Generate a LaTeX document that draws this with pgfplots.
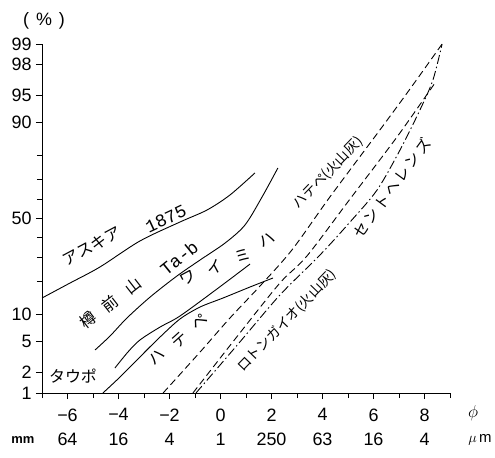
\documentclass[border=0pt]{standalone}
\usepackage{fontspec}
\setmainfont{Noto Sans CJK JP}
\newfontfamily\numfont{Liberation Sans}
\newfontfamily\twfont{Liberation Mono}
\usepackage{pgfplots}
\pgfplotsset{compat=1.18}

% probit (z) values of the cumulative percentages
\pgfplotstableread{
x y
-7.00 -1.060
-5.90 -0.860
-4.73 -0.647
-3.16 -0.300
-1.59 -0.047
-0.53 0.113
0.37 0.313
1.35 0.607
}\askia
\pgfplotstableread{
x y
-4.92 -1.753
-4.33 -1.566
-3.67 -1.327
-2.76 -1.047
-1.71 -0.767
-0.80 -0.553
0.18 -0.327
0.96 -0.087
1.63 0.287
2.25 0.673
}\tarumae
\pgfplotstableread{
x y
-4.14 -1.993
-3.63 -1.780
-3.16 -1.620
-2.37 -1.447
-1.59 -1.300
-0.14 -0.940
1.16 -0.607
}\waimiha
\pgfplotstableread{
x y
-4.61 -2.326
-3.94 -2.113
-3.16 -1.846
-2.37 -1.580
-1.59 -1.340
-0.80 -1.180
0.10 -1.060
1.16 -0.913
2.06 -0.793
}\taupo
\pgfplotstableread{
x y
-2.25 -2.326
-0.80 -1.780
0.37 -1.327
1.55 -0.900
2.80 -0.420
4.29 0.287
6.25 1.180
7.43 1.726
8.69 2.326
}\hatepe
\pgfplotstableread{
x y
-1.08 -2.326
0.76 -1.526
2.33 -0.860
3.39 -0.500
5.08 0.260
6.92 1.086
8.41 1.806
}\rotongaio
\pgfplotstableread{
x y
-0.96 -2.326
0.76 -1.646
2.33 -1.020
3.90 -0.487
5.08 -0.047
6.14 0.380
7.04 0.913
7.82 1.446
8.33 1.846
8.69 2.326
}\sthelens

\begin{document}
\begin{tikzpicture}
\useasboundingbox (-42bp,-65bp) rectangle (453bp,393bp);
\begin{axis}[
  name=ax, at={(0,0)}, anchor=south west,
  scale only axis, width=408bp, height=349bp,
  xmin=-7, xmax=9, ymin=-2.3263, ymax=2.3263,
  axis x line=bottom, axis y line=left,
  axis line style={-, line width=1pt},
  tick align=outside,
  major tick length=6bp, minor tick length=5bp,
  every tick/.style={black, line width=0.9pt},
  xtick={-6,-4,-2,0,2,4,6,8},
  xticklabels={{−6\\64},{−4\\16},{−2\\4},{0\\1},{2\\250},{4\\63},{6\\16},{8\\4}},
  minor xtick={-7,-5,-3,-1,1,3,5,7,9},
  ytick={-2.3263,-2.0537,-1.6449,-1.2816,0,1.2816,1.6449,2.0537,2.3263},
  yticklabels={1,2,5,10,50,90,95,98,99},
  minor ytick={-0.8416,-0.5244,-0.2533,0.2533,0.5244,0.8416},
  ticklabel style={font=\numfont\fontsize{18}{25}\selectfont},
  xticklabel style={align=center, yshift=-6bp},
  yticklabel style={xshift=-1bp},
  clip=false,
]
\addplot[black, line width=0.9pt, smooth] table {\askia};
\addplot[black, line width=0.9pt, smooth] table {\tarumae};
\addplot[black, line width=0.9pt, smooth] table {\waimiha};
\addplot[black, line width=0.9pt, smooth] table {\taupo};
\addplot[black, line width=0.9pt, smooth, dash pattern=on 7bp off 4bp] table {\hatepe};
\addplot[black, line width=0.9pt, smooth, dash pattern=on 7bp off 4bp] table {\rotongaio};
\addplot[black, line width=0.9pt, smooth, dash pattern=on 9bp off 3bp on 1.5bp off 3bp] table {\sthelens};
\end{axis}
\begin{scope}[x=1bp, y=1bp, every node/.style={font=\fontsize{16}{16}\selectfont, inner sep=0pt}]
\node[font=\numfont\fontsize{18}{18}\selectfont] at (2,372) {(\hspace{7bp}\%\hspace{7bp})};
\node at (31,17) {タウポ};
\node[rotate=28] at (50,147) {アスキア};
\node[rotate=25, font=\twfont\fontsize{18}{18}\selectfont] at (124,174) {1875};
\node[rotate=38] at (46,73) {樽};
\node[rotate=38] at (68,89) {前};
\node[rotate=38] at (91,107) {山};
\node[rotate=39, font=\twfont\fontsize{18}{18}\selectfont] at (137,135) {Ta-b};
\node[rotate=28] at (146,115) {ワ};
\node[rotate=28] at (173,126) {イ};
\node[rotate=28] at (201,137) {ミ};
\node[rotate=28] at (225,153) {ハ};
\node[rotate=42] at (115,36) {ハ};
\node[rotate=42] at (138,53) {テ};
\node[rotate=42] at (158,71) {ペ};
\node[rotate=46, font=\fontsize{14}{14}\selectfont] at (286,220) {ハテペ(火山灰)};
\node[rotate=46, font=\fontsize{14}{14}\selectfont] at (245,72) {ロトンガイオ(火山灰)};
\node[rotate=54, font=\fontsize{15}{15}\selectfont] at (350,205) {セ\,ン\,ト\,ヘ\,レ\,ン\,ズ};
\node[font=\fontsize{17}{17}\selectfont] at (431,-20) {$\phi$};
\node[font=\numfont\bfseries\fontsize{13}{13}\selectfont] at (-19,-47) {mm};
\node[font=\numfont\fontsize{15}{15}\selectfont] at (438,-47) {$\mu$\,m};
\end{scope}
\end{tikzpicture}
\end{document}
